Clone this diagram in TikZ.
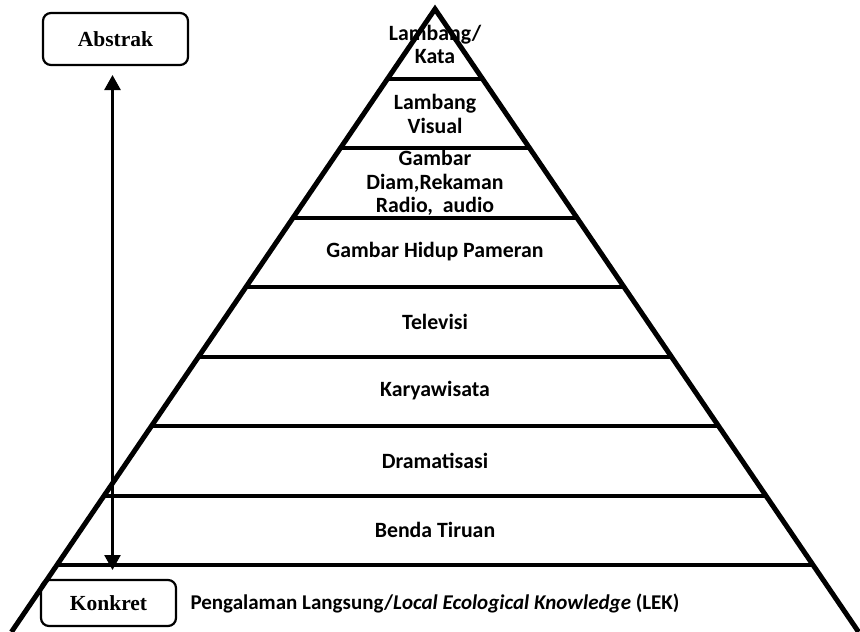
\documentclass[tikz,border=0pt]{standalone}
\usepackage{fontspec}
\setmainfont{Carlito}
\newfontfamily\boxfont{Liberation Serif}
\usetikzlibrary{calc,positioning,arrows.meta}
\tikzset{
    levellabel/.style={font=\bfseries\fontsize{21.8}{23.5}\selectfont, align=center, inner sep=0pt},
    endbox/.style={draw, line width=2.2pt, rounded corners=8pt, font=\boxfont\bfseries\fontsize{21.5}{24}\selectfont},
    side/.style={line width=5pt},
    step line/.style={line width=4pt}
}

\begin{document}
\begin{tikzpicture}[x=1pt,y=-1pt]
                    \useasboundingbox (0,0) rectangle (860,632);
                    % labels of the levels
                    \node[levellabel] (kata)   at (435,44.5) {Lambang/\\Kata};
                    \node[levellabel] (visual) at (435,114)  {Lambang\\Visual};
                    \node[levellabel] (diam)   at (435,183)  {Gambar\\Diam,Rekaman\\Radio,\ \ audio};
                    \node[levellabel] (hidup)  at (435,252)  {Gambar Hidup Pameran};
                    \node[levellabel] (tv)     at (435,322)  {Televisi};
                    \node[levellabel] (wisata) at (435,391)  {Karyawisata};
                    \node[levellabel] (drama)  at (435,461)  {Dramatisasi};
                    \node[levellabel] (tiruan) at (435,530)  {Benda Tiruan};
                    \node[levellabel, font=\bfseries\fontsize{21}{23.5}\selectfont] (lek) at (435,603) {Pengalaman Langsung/\textit{Local Ecological Knowledge} (LEK)};
                    % the pyramid
                    \draw[side] (11.4,632)--(435,9)--(858.6,632);
                    \foreach \y/\w in {78.5/47.3,148/94.5,217.5/141.8,287/189.0,356.5/236.3,426/283.6,495.5/330.8,565/378.1}
                    {
                        \draw[step line] (435-\w,\y)--(435+\w,\y);
                    }
                    % abstract / concrete
                    \node[endbox, minimum width=145pt, minimum height=52pt] (abstrak) at (115.5,39) {Abstrak};
                    \node[endbox, minimum width=135pt, minimum height=46pt] (konkret) at (108.5,603) {Konkret};
                    \coordinate (abstrak end) at (112.5,75);
                    \coordinate (konkret end) at (112.5,570);
                    \draw[line width=2.6pt, {Triangle[length=15pt,width=16pt]}-{Triangle[length=15pt,width=16pt]}] (abstrak end)--(konkret end);
                \end{tikzpicture}
\end{document}
